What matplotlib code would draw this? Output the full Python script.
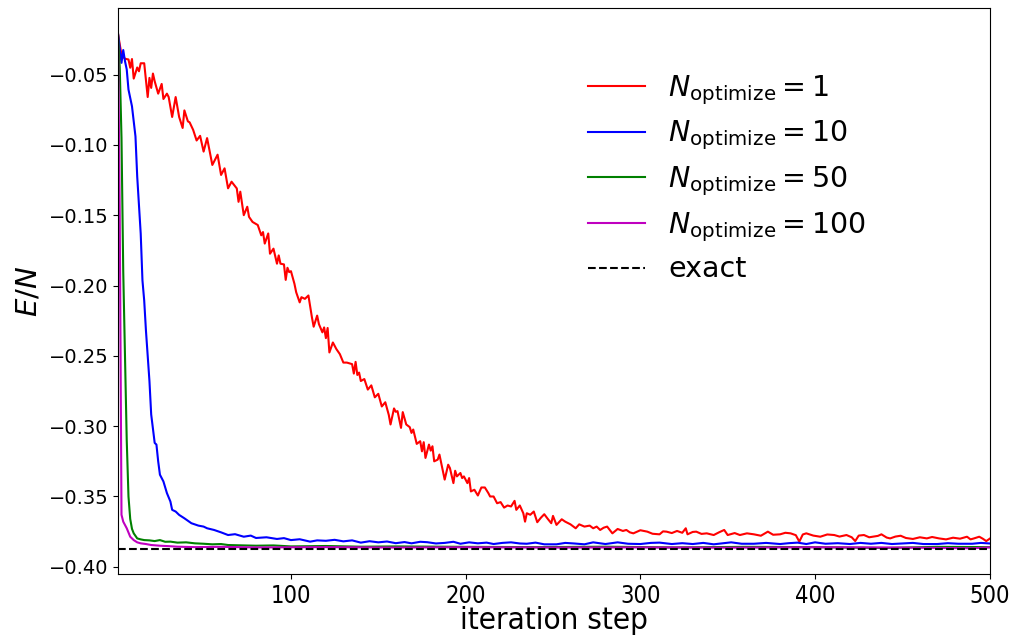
import matplotlib.pyplot as plt

# energy per site vs iteration step
red_steps = [1, 3, 5, 7, 8, 9, 10, 12, 13, 14, 16, 18, 19, 20, 21, 22, 24, 26, 27, 29,
             30, 32, 34, 36, 38, 39, 41, 42, 44, 46, 48, 50, 52, 55, 58, 60, 62, 64, 66, 69,
             70, 71, 73, 75, 76, 78, 81, 83, 84, 85, 87, 88, 90, 92, 93, 94, 96, 97, 98, 99,
             100, 102, 103, 105, 106, 108, 110, 112, 113, 115, 116, 118, 119, 120, 121, 122, 124, 126, 128, 130,
             132, 135, 136, 137, 138, 139, 140, 142, 144, 146, 148, 150, 152, 154, 156, 157, 159, 160, 161, 163,
             164, 166, 168, 169, 170, 172, 174, 175, 176, 177, 179, 180, 181, 182, 184, 185, 188, 190, 191, 193,
             194, 195, 197, 198, 199, 201, 202, 203, 205, 207, 209, 211, 213, 214, 216, 218, 220, 222, 224, 226,
             228, 229, 231, 233, 234, 235, 237, 239, 241, 243, 245, 247, 249, 250, 252, 255, 257, 260, 263, 265,
             268, 271, 273, 275, 277, 279, 281, 284, 287, 290, 292, 294, 296, 300, 304, 307, 311, 313, 315, 318,
             321, 324, 326, 327, 330, 332, 335, 338, 342, 345, 348, 350, 354, 357, 361, 365, 369, 373, 376, 380,
             383, 386, 389, 391, 393, 395, 399, 403, 407, 411, 414, 418, 421, 423, 425, 428, 431, 433, 436, 438,
             441, 443, 446, 449, 452, 456, 460, 464, 467, 471, 475, 479, 483, 487, 489, 491, 494, 496, 498, 500]
red_energy = [-0.021, -0.036, -0.0388, -0.0393, -0.0452, -0.039, -0.0529, -0.045, -0.0477, -0.042,
              -0.042, -0.066, -0.0524, -0.0595, -0.0493, -0.0548, -0.0636, -0.0567, -0.0674, -0.0636,
              -0.066, -0.0802, -0.066, -0.0802, -0.088, -0.0755, -0.0833, -0.084, -0.0893, -0.0969,
              -0.0936, -0.1048, -0.0952, -0.1143, -0.107, -0.1214, -0.1167, -0.1309, -0.1262, -0.131,
              -0.1405, -0.1333, -0.15, -0.144, -0.1512, -0.1548, -0.157, -0.1643, -0.162, -0.1702,
              -0.163, -0.1774, -0.1738, -0.1845, -0.1786, -0.1845, -0.185, -0.196, -0.1874, -0.1905,
              -0.1898, -0.1988, -0.2048, -0.212, -0.2083, -0.2095, -0.2071, -0.2226, -0.2293, -0.2214,
              -0.2274, -0.2333, -0.2298, -0.2374, -0.2302, -0.2476, -0.2405, -0.2452, -0.2488, -0.2548,
              -0.2548, -0.2559, -0.2626, -0.2543, -0.2636, -0.2619, -0.2679, -0.2665, -0.274, -0.271,
              -0.2795, -0.277, -0.286, -0.283, -0.292, -0.2988, -0.2874, -0.2898, -0.2893, -0.3012,
              -0.29, -0.2988, -0.3007, -0.3048, -0.3024, -0.3126, -0.3107, -0.3179, -0.3114, -0.3226,
              -0.3131, -0.3174, -0.3143, -0.325, -0.3238, -0.3202, -0.338, -0.3274, -0.3298, -0.3405,
              -0.3317, -0.3357, -0.3333, -0.3369, -0.3357, -0.3405, -0.3369, -0.3464, -0.3452, -0.3493,
              -0.3436, -0.3436, -0.3476, -0.35, -0.35, -0.3548, -0.354, -0.3579, -0.3564, -0.3571,
              -0.3531, -0.3595, -0.3564, -0.3619, -0.3679, -0.3619, -0.363, -0.3607, -0.3683, -0.3652,
              -0.3626, -0.3659, -0.369, -0.3638, -0.3702, -0.3662, -0.3679, -0.3698, -0.3726, -0.3698,
              -0.3714, -0.3707, -0.3726, -0.3714, -0.3738, -0.3722, -0.3714, -0.3762, -0.3731, -0.3745,
              -0.3738, -0.3755, -0.3762, -0.3740, -0.375, -0.3765, -0.3769, -0.3748, -0.375, -0.3760,
              -0.3745, -0.3758, -0.3726, -0.3769, -0.3752, -0.375, -0.3766, -0.3762, -0.3774, -0.3755,
              -0.3738, -0.3774, -0.3760, -0.3774, -0.3762, -0.3769, -0.3779, -0.375, -0.3772, -0.3769,
              -0.3758, -0.3762, -0.3775, -0.3821, -0.3770, -0.3762, -0.3778, -0.3786, -0.3770, -0.3774,
              -0.3785, -0.3774, -0.3790, -0.3817, -0.3778, -0.3774, -0.3790, -0.3786, -0.3780, -0.3769,
              -0.3792, -0.3798, -0.3785, -0.3779, -0.3795, -0.3802, -0.3790, -0.3798, -0.3788, -0.3798,
              -0.3805, -0.3793, -0.3800, -0.3786, -0.3805, -0.3798, -0.3786, -0.3800, -0.3817, -0.38]

blue_steps = [1, 3, 4, 5, 6, 7, 9, 11, 12, 14, 15, 16, 17, 19, 20, 22, 23, 24, 25, 27,
              29, 31, 32, 34, 36, 39, 43, 47, 50, 52, 56, 60, 64, 68, 73, 77, 80, 86, 92, 96,
              100, 105, 111, 115, 120, 125, 130, 135, 140, 145, 150, 155, 160, 165, 169, 174, 178, 183, 188, 193,
              197, 202, 207, 212, 216, 221, 226, 231, 235, 240, 245, 252, 257, 262, 268, 273, 280, 287, 293, 300,
              306, 311, 318, 324, 330, 336, 342, 352, 358, 365, 372, 380, 385, 390, 395, 400, 406, 413, 420, 426,
              432, 438, 444, 450, 456, 462, 470, 476, 482, 490, 495, 500]
blue_energy = [-0.021, -0.0417, -0.0326, -0.0405, -0.0464, -0.0607, -0.0726, -0.094, -0.1226, -0.1631,
               -0.1964, -0.2107, -0.2321, -0.2679, -0.2917, -0.3119, -0.3131, -0.325, -0.3345, -0.3393,
               -0.3476, -0.3536, -0.3595, -0.3607, -0.3631, -0.3655, -0.369, -0.3707, -0.3714, -0.3726,
               -0.3738, -0.3755, -0.3774, -0.3768, -0.3786, -0.3778, -0.3795, -0.3790, -0.3802, -0.3796,
               -0.381, -0.3804, -0.3821, -0.3812, -0.3815, -0.3808, -0.3819, -0.3812, -0.3828, -0.3818,
               -0.3826, -0.3820, -0.3832, -0.3824, -0.3833, -0.3822, -0.3825, -0.3834, -0.383, -0.3822,
               -0.3836, -0.3826, -0.3833, -0.3828, -0.3838, -0.3830, -0.3826, -0.3834, -0.3836, -0.3828,
               -0.384, -0.384, -0.3830, -0.3834, -0.3840, -0.3826, -0.3838, -0.3826, -0.3836, -0.3838,
               -0.3830, -0.3828, -0.3838, -0.3832, -0.3838, -0.3830, -0.3840, -0.3826, -0.3836, -0.3836,
               -0.3830, -0.3838, -0.3832, -0.3828, -0.3838, -0.3826, -0.3836, -0.3832, -0.3838, -0.3830,
               -0.3836, -0.3830, -0.3838, -0.3834, -0.3830, -0.3838, -0.3838, -0.3832, -0.3836, -0.3836,
               -0.3830, -0.3834]

green_steps = [1, 2, 3, 4, 5, 6, 7, 8, 9, 10, 12, 14, 16, 19, 22, 25, 28, 31, 35, 40,
               45, 50, 55, 60, 64, 70, 80, 90, 100, 120, 140, 160, 200, 240, 280, 320, 360, 400, 440, 470, 500]
green_energy = [-0.021, -0.045, -0.095, -0.19, -0.25, -0.31, -0.35, -0.366, -0.373, -0.3762,
                -0.3798, -0.3805, -0.381, -0.3812, -0.3817, -0.381, -0.3822, -0.3821, -0.3828, -0.3826,
                -0.3833, -0.3836, -0.384, -0.3838, -0.3845, -0.3847, -0.385, -0.3848, -0.3855, -0.3852,
                -0.3857, -0.3855, -0.3858, -0.386, -0.3857, -0.3862, -0.3858, -0.386, -0.3866, -0.3858, -0.386]

magenta_steps = [1, 2, 3, 4, 6, 8, 10, 12, 14, 17, 20, 25, 30, 35, 45, 60, 80, 120, 160, 200,
                 250, 300, 350, 400, 450, 490, 500]
magenta_energy = [-0.021, -0.15, -0.363, -0.3679, -0.3726, -0.3786, -0.381, -0.3826, -0.3833, -0.3838,
                  -0.3845, -0.385, -0.3853, -0.3857, -0.386, -0.3858, -0.3862, -0.386, -0.3863, -0.3861,
                  -0.3863, -0.3862, -0.3864, -0.3861, -0.3863, -0.3868, -0.3862]

exact_energy = -0.387

fig = plt.figure(figsize=(10.12, 6.35), dpi=100)
ax = fig.add_axes([0.1166, 0.0961, 0.8614, 0.8913])

ax.plot(red_steps, red_energy, 'r', lw=1.5, label=r'$N_{\rm optimize} = 1$')
ax.plot(blue_steps, blue_energy, 'b', lw=1.5, label=r'$N_{\rm optimize} = 10$')
ax.plot(green_steps, green_energy, 'g', lw=1.5, label=r'$N_{\rm optimize} = 50$')
ax.plot(magenta_steps, magenta_energy, 'm', lw=1.5, label=r'$N_{\rm optimize} = 100$')
ax.axhline(exact_energy, color='k', ls='--', lw=1.5, label='exact')

ax.set_xlim(1, 500)
ax.set_xticks([100, 200, 300, 400, 500])
ax.tick_params(axis='y', labelsize=14)
ax.tick_params(axis='x', labelsize=17)
for t in ax.get_xticklabels():
    t.set_fontstretch('condensed')

ax.set_xlabel('iteration step', fontsize=22.5, fontstretch='condensed', labelpad=-1)
ax.set_ylabel(r'$E/N$', fontsize=21)

ax.legend(loc='upper left', bbox_to_anchor=(0.51, 0.93), fontsize=20.5,
          labelspacing=0.42, frameon=False)

fig.savefig('out.png', dpi=100)
